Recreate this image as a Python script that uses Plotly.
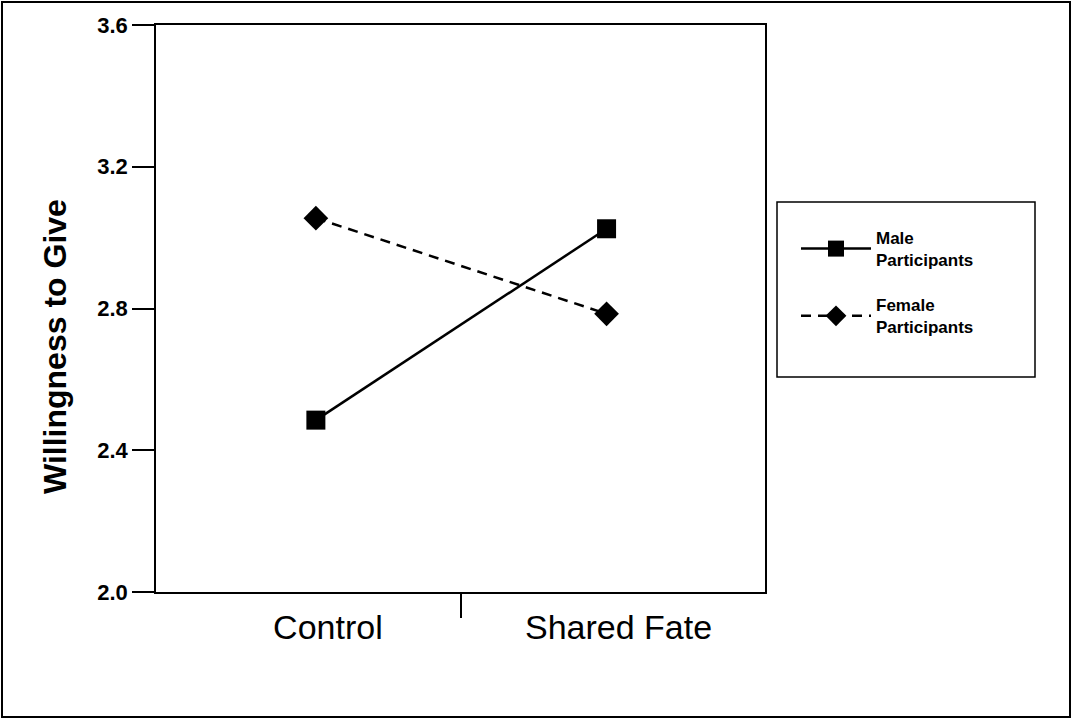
import plotly.graph_objects as go

# ---- data ----
categories = ["Control", "Shared Fate"]
male_values = [2.485, 3.025]
female_values = [3.055, 2.785]
series_names = ["Male<br>Participants", "Female<br>Participants"]
y_ticks = [2.0, 2.4, 2.8, 3.2, 3.6]
y_title = "Willingness to Give"

W, H = 1072, 719
L, R, T, B = 156, 1072 - 765, 25, 719 - 592
pw, ph = W - L - R, H - T - B

def px_x(p):
    return (p - L) / pw

def px_y(p):
    return (H - B - p) / ph

xpos = list(range(len(categories)))

fig = go.Figure()
fig.add_trace(go.Scatter(
    x=xpos, y=male_values, name=series_names[0], mode="lines+markers",
    line=dict(color="black", width=2.5),
    marker=dict(symbol="square", size=19, color="black"),
    legendgroup="m",
))
fig.add_trace(go.Scatter(
    x=xpos, y=female_values, name=series_names[1], mode="lines+markers",
    line=dict(color="black", width=2.5, dash="10px,7px"),
    marker=dict(symbol="diamond", size=19, color="black"),
    legendgroup="f",
))

axis_font = dict(family="Arial, Liberation Sans, sans-serif", color="black")

fig.update_layout(
    width=W, height=H,
    margin=dict(l=L, r=R, t=T, b=B, pad=0),
    paper_bgcolor="white", plot_bgcolor="white",
    showlegend=True,
    legend=dict(
        x=px_x(796), y=px_y(220), xanchor="left", yanchor="top",
        bgcolor="rgba(0,0,0,0)", borderwidth=0,
        font=dict(size=17, family="Arial, Liberation Sans, sans-serif", color="black", weight="bold"),
        tracegroupgap=20, itemwidth=70,
    ),
    xaxis=dict(
        range=[-0.55, 1.545], showgrid=False, zeroline=False,
        showline=True, linecolor="black", linewidth=1.5, mirror=True,
        tickvals=xpos, ticktext=categories, ticks="outside", ticklen=0,
        ticklabelstandoff=4, ticklabelshift=12,
        tickfont=dict(size=34, **axis_font),
        minor=dict(tickvals=[0.5], ticks="outside", ticklen=24, tickcolor="black", tickwidth=1.5),
    ),
    yaxis=dict(
        range=[2.0, 3.6], showgrid=False, zeroline=False,
        showline=True, linecolor="black", linewidth=1.5, mirror=True,
        tickvals=y_ticks, tickformat=".1f", ticks="outside", ticklen=22,
        tickcolor="black", tickwidth=1.5,
        tickfont=dict(size=22, weight="bold", **axis_font),
    ),
    shapes=[
        dict(type="rect", xref="paper", yref="paper",
             x0=px_x(2), x1=px_x(1070), y0=px_y(717), y1=px_y(2),
             line=dict(color="black", width=2), layer="below"),
        dict(type="rect", xref="paper", yref="paper",
             x0=px_x(777), x1=px_x(1035), y0=px_y(377), y1=px_y(202),
             line=dict(color="black", width=1.5)),
    ],
    annotations=[
        dict(text=y_title, textangle=-90, xref="paper", yref="paper",
             x=px_x(55), y=px_y(347), xanchor="center", yanchor="middle",
             showarrow=False,
             font=dict(size=32, weight="bold", **axis_font)),
    ],
)

fig.write_html("out.html", config={"displayModeBar": False},
               post_script="document.body.style.margin='0';")
